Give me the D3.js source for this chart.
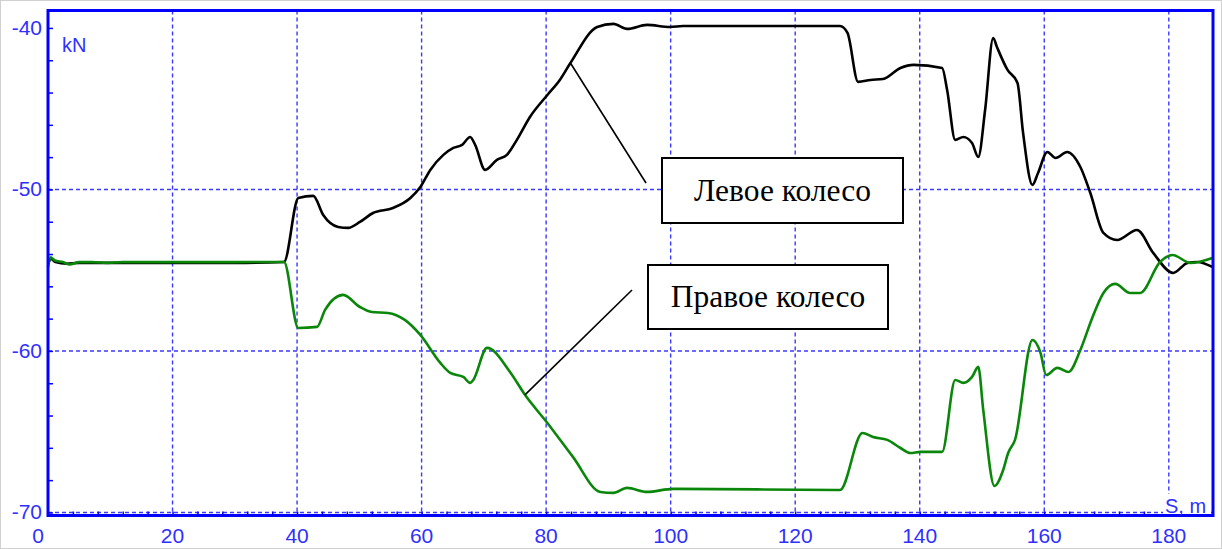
<!DOCTYPE html>
<html>
<head>
<meta charset="utf-8">
<script src="https://cdn.jsdelivr.net/npm/d3@7"></script>
<style>
  html, body { margin: 0; padding: 0; background: #fff; }
  svg { display: block; }
</style>
</head>
<body>
<div id="chart"></div>
<script>
var width = 1222;
var height = 549;

// distance along track, m  /  wheel load, kN
var leftS = [0, 0.5, 1.2, 3, 5, 10, 20, 30, 37.9, 40.2, 42.6, 44.2, 46.6, 48.2, 50.1, 52.2, 55.4, 58.2,
  59.8, 61.4, 63.5, 65.1, 66.5, 67.8, 68.6, 70.2, 72.1, 73.7, 75.3, 77.4, 80.2, 82.2, 83.9, 88.2,
  90.8, 93.0, 96.2, 99.9, 102.0, 127.2, 128.4, 130.1, 132.1, 134.1, 136.9, 139.0, 143.6, 144.4,
  145.7, 147.0, 148.4, 149.4, 150.5, 151.8, 152.4, 154.1, 155.7, 156.6, 158.1, 159.0, 160.5,
  161.8, 163.7, 165.8, 167.4, 169.5, 171.7, 174.9, 177.5, 180.7, 183.0, 184.6, 187.0];
var leftV = [-54.6, -54.3, -54.5, -54.6, -54.55, -54.55, -54.55, -54.55, -54.49, -50.53, -50.40, -51.58,
  -52.32, -52.38, -52.01, -51.46, -51.15, -50.53, -49.85, -48.79, -47.86, -47.43, -47.24, -46.75,
  -47.24, -48.79, -48.17, -47.86, -46.93, -45.51, -44.15, -43.22, -42.17, -39.94, -39.75, -40.06,
  -39.81, -39.94, -39.88, -39.88, -40.31, -43.34, -43.22, -43.16, -42.48, -42.29, -42.48, -43.84,
  -46.93, -46.75, -47.12, -47.99, -45.08, -40.62, -41.18, -42.60, -43.41, -46.50, -49.72, -48.98,
  -47.68, -48.05, -47.68, -48.61, -50.22, -52.69, -53.13, -52.51, -53.93, -55.17, -54.55, -54.49,
  -54.80];

var rightS = [0, 0.4, 1.1, 2.4, 3.5, 5, 7, 9.5, 12, 20, 30, 37.9, 40.2, 43.2, 44.5, 47.4, 50.1, 52.0,
  54.6, 57.3, 59.8, 63.0, 64.6, 66.7, 67.8, 68.3, 70.5, 74.2, 76.6, 80.2, 84.3, 88.7, 90.8, 93.0,
  96.2, 100.4, 127.2, 130.8, 132.5, 134.8, 136.9, 138.5, 140.1, 143.6, 145.7, 147.0, 148.4, 149.4,
  150.2, 152.0, 153.4, 154.2, 155.3, 158.1, 159.4, 160.3, 162.1, 163.9, 165.8, 167.7, 169.5,
  171.4, 173.8, 175.4, 178.6, 180.6, 183.5, 187.0];
var rightV = [-54.8, -54.2, -54.4, -54.5, -54.65, -54.5, -54.5, -54.55, -54.5, -54.5, -54.5, -54.49,
  -58.58, -58.51, -57.46, -56.53, -57.28, -57.59, -57.65, -58.08, -59.01, -60.74, -61.36, -61.61,
  -61.98, -61.80, -59.81, -61.30, -62.72, -64.46, -66.56, -68.73, -68.79, -68.48, -68.73, -68.54,
  -68.61, -65.08, -65.33, -65.51, -66.01, -66.32, -66.25, -66.25, -61.80, -61.98, -61.61, -60.99,
  -63.65, -68.36, -67.37, -66.32, -65.51, -59.32, -60.12, -61.49, -61.05, -61.30, -59.94, -57.96,
  -56.41, -55.85, -56.41, -56.41, -54.49, -54.06, -54.55, -54.24];

var xTicks = [0, 20, 40, 60, 80, 100, 120, 140, 160, 180];
var yTicks = [-40, -50, -60, -70];
var yGrid = [-50, -60, -70];
var labels = ["Левое колесо", "Правое колесо"];

var blue = "#0000ff";
var gridBlue = "#3a3aff";
var textBlue = "#3030ff";

var x = d3.scaleLinear().domain([0, 187.1]).range([48, 1213]);
var y = d3.scaleLinear().domain([-70.19, -38.92]).range([515.5, 10.5]);

var svg = d3.select("#chart").append("svg")
    .attr("width", width)
    .attr("height", height);

svg.append("rect")
    .attr("x", 0.5).attr("y", 0.5)
    .attr("width", width - 1).attr("height", height - 1)
    .attr("fill", "#fff")
    .attr("stroke", "#d0d0d0");

// grid
svg.append("g").selectAll("line")
    .data(xTicks.slice(1))
    .join("line")
    .attr("x1", d => x(d)).attr("x2", d => x(d))
    .attr("y1", y.range()[1]).attr("y2", y.range()[0])
    .attr("stroke", gridBlue)
    .attr("stroke-width", 1.4)
    .attr("stroke-dasharray", "4,3");

svg.append("g").selectAll("line")
    .data(yGrid)
    .join("line")
    .attr("x1", x.range()[0]).attr("x2", x.range()[1])
    .attr("y1", d => y(d)).attr("y2", d => y(d))
    .attr("stroke", gridBlue)
    .attr("stroke-width", 1.4)
    .attr("stroke-dasharray", "4,3");

// minor ticks, pointing inward
var xAxis = d3.axisTop(x).tickValues(d3.range(4, 187, 4)).tickSize(4).tickFormat("");
svg.append("g")
    .attr("transform", "translate(0," + y.range()[0] + ")")
    .call(xAxis)
    .call(g => g.select(".domain").remove())
    .selectAll("line").attr("stroke", blue).attr("stroke-width", 1.5);

var yAxis = d3.axisRight(y).tickValues(d3.range(-70, -38.9, 2)).tickSize(5).tickFormat("");
svg.append("g")
    .attr("transform", "translate(" + x.range()[0] + ",0)")
    .call(yAxis)
    .call(g => g.select(".domain").remove())
    .selectAll("line").attr("stroke", blue).attr("stroke-width", 1.5);

// tick labels
svg.append("g").selectAll("text")
    .data(xTicks)
    .join("text")
    .attr("x", d => x(d) + (d === 0 ? -10 : 0))
    .attr("y", 543)
    .attr("text-anchor", "middle")
    .attr("fill", textBlue)
    .style("font-family", "Liberation Sans, Arial, sans-serif")
    .style("font-size", "21px")
    .text(d => d);

svg.append("g").selectAll("text")
    .data(yTicks)
    .join("text")
    .attr("x", 42)
    .attr("y", d => y(d) + 7)
    .attr("text-anchor", "end")
    .attr("fill", textBlue)
    .style("font-family", "Liberation Sans, Arial, sans-serif")
    .style("font-size", "21px")
    .text(d => d);

// curves
var line = d3.line()
    .x(d => x(d[0]))
    .y(d => y(d[1]))
    .curve(d3.curveMonotoneX);

svg.append("path")
    .datum(d3.zip(leftS, leftV))
    .attr("d", line)
    .attr("fill", "none")
    .attr("stroke", "#000")
    .attr("stroke-width", 2.6)
    .attr("stroke-linejoin", "round");

svg.append("path")
    .datum(d3.zip(rightS, rightV))
    .attr("d", line)
    .attr("fill", "none")
    .attr("stroke", "#0a870a")
    .attr("stroke-width", 2.6)
    .attr("stroke-linejoin", "round");

// frame
svg.append("rect")
    .attr("x", x.range()[0]).attr("y", y.range()[1])
    .attr("width", x.range()[1] - x.range()[0])
    .attr("height", y.range()[0] - y.range()[1])
    .attr("fill", "none")
    .attr("stroke", blue)
    .attr("stroke-width", 3);

// unit labels
svg.append("text")
    .attr("x", 62).attr("y", 52)
    .attr("fill", textBlue)
    .style("font-family", "Liberation Sans, Arial, sans-serif")
    .style("font-size", "20px")
    .text("kN");

svg.append("rect")
    .attr("x", 1163).attr("y", 494)
    .attr("width", 48).attr("height", 20)
    .attr("fill", "#fff");
svg.append("text")
    .attr("x", 1165).attr("y", 513)
    .attr("fill", textBlue)
    .style("font-family", "Liberation Sans, Arial, sans-serif")
    .style("font-size", "20px")
    .text("S, m");

// callouts
function callout(lx1, ly1, lx2, ly2, bx, by, bw, bh, label) {
    svg.append("line")
        .attr("x1", lx1).attr("y1", ly1)
        .attr("x2", lx2).attr("y2", ly2)
        .attr("stroke", "#000")
        .attr("stroke-width", 1.6);
    svg.append("rect")
        .attr("x", bx).attr("y", by)
        .attr("width", bw).attr("height", bh)
        .attr("fill", "#fff")
        .attr("stroke", "#000")
        .attr("stroke-width", 2);
    svg.append("text")
        .attr("x", bx + bw / 2).attr("y", by + bh / 2 + 10)
        .attr("text-anchor", "middle")
        .attr("fill", "#000")
        .style("font-family", "Liberation Serif, Times New Roman, serif")
        .style("font-size", "31.5px")
        .text(label);
}

callout(x(83.9), y(-42.17), 646, 183, 662, 158, 241, 65, labels[0]);
callout(x(76.6), y(-62.72), 632, 290, 648, 265, 240, 64, labels[1]);
</script>
</body>
</html>
